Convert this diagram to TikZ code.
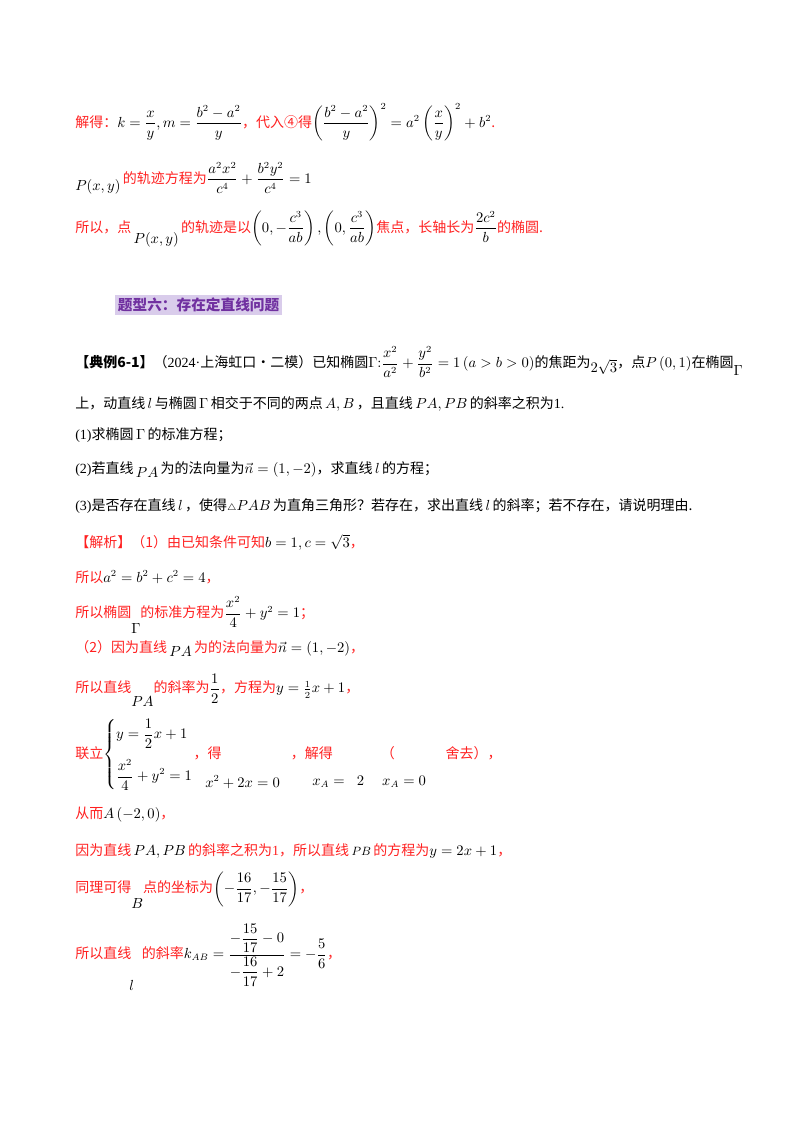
\documentclass[tikz,border=0pt]{standalone}
\usepackage{amsmath}
\usepackage{fontspec}
\setmainfont{Liberation Serif}
\newfontfamily\cjk{Noto Sans CJK SC}
\definecolor{rd}{HTML}{FF2020}
\definecolor{pur}{HTML}{7030A0}
\definecolor{hl}{HTML}{D9CCEB}
\newcommand{\R}[1]{{\color{rd}\cjk #1}}
\newcommand{\K}[1]{{\cjk #1}}
\newcommand{\dn}[2]{\raisebox{-#1pt}{#2}}
\begin{document}
\begin{tikzpicture}[x=0.75pt,y=-0.75pt,
  ln/.style={anchor=west,inner sep=0pt,font=\fontsize{10.5}{12}\selectfont}]
\useasboundingbox (0,0) rectangle (800,1132);
\node[ln] (l1) at (75,122) {\R{解得：}$k=\dfrac{x}{y},m=\dfrac{b^2-a^2}{y}$\R{，代入④得}$\left(\dfrac{b^2-a^2}{y}\right)^2=a^2\left(\dfrac{x}{y}\right)^2+b^2$\R{.}};
\node[ln] (l2) at (75,178) {\dn{5}{$P(x,y)$}\,\R{的轨迹方程为}$\dfrac{a^2x^2}{c^4}+\dfrac{b^2y^2}{c^4}=1$};
\node[ln] (l3) at (75,229) {\R{所以，点}\,\dn{8}{$P(x,y)$}\,\R{的轨迹是以}$\left(0,-\dfrac{c^3}{ab}\right),\left(0,\dfrac{c^3}{ab}\right)$\R{焦点，长轴长为}$\dfrac{2c^2}{b}$\R{的椭圆.}};
\node[ln,fill=hl,inner sep=2pt,font=\fontsize{11}{12}\selectfont\bfseries] (t) at (115,305) {{\color{pur}\cjk\bfseries 题型六：存在定直线问题}};
\node[ln] (e1) at (75,362) {\K{\bfseries【典例6-1】}\K{（}2024·\K{上海虹口·二模）已知椭圆}$\Gamma{:}\dfrac{x^2}{a^2}+\dfrac{y^2}{b^2}=1\left(a>b>0\right)$\K{的焦距为}\dn{4}{$2\sqrt3$}\K{，点}$P\left(0,1\right)$\K{在椭圆}\dn{6}{$\Gamma$}};
\node[ln] (e2) at (75,404) {\K{上，动直线}$\,l\,$\K{与椭圆}$\,\Gamma\,$\K{相交于不同的两点}$\,A,B\,$\K{，且直线}$\,PA,PB\,$\K{的斜率之积为}1.};
\node[ln] (e3) at (75,435) {(1)\K{求椭圆}$\,\Gamma\,$\K{的标准方程；}};
\node[ln] (e4) at (75,470) {(2)\K{若直线}\,\dn{3}{$PA$}\,\K{为的法向量为}$\vec n=\left(1,-2\right)$\K{，求直线}$\,l\,$\K{的方程；}};
\node[ln] (e5) at (75,506) {(3)\K{是否存在直线}$\,l\,$\K{，使得}{\scriptsize$\triangle$}$PAB\,$\K{为直角三角形？若存在，求出直线}$\,l\,$\K{的斜率；若不存在，请说明理由.}};
\node[ln] (s1) at (75,542) {\R{【解析】（1）由已知条件可知}$b=1,c=\sqrt3$\R{，}};
\node[ln] (s2) at (75,577) {\R{所以}$a^2=b^2+c^2=4$\R{，}};
\node[ln] (s3) at (75,615) {\R{所以椭圆}\dn{12}{$\Gamma$}\R{的标准方程为}$\dfrac{x^2}{4}+y^2=1$\R{；}};
\node[ln] (s4) at (75,648) {\R{（2）因为直线}\,\dn{3}{$PA$}\,\R{为的法向量为}$\vec n=\left(1,-2\right)$\R{，}};
\node[ln] (s5) at (75,690) {\R{所以直线}\dn{10}{$PA$}\R{的斜率为}$\dfrac12$\R{，方程为}$y=\frac12x+1$\R{，}};
\node[ln] (s6) at (75,755) {\R{联立}$\left\{\begin{aligned}&y=\dfrac12x+1\\[4pt]&\dfrac{x^2}{4}+y^2=1\end{aligned}\right.$\R{，得}\hspace{52pt}\R{，解得}\hspace{36pt}\R{（}\hspace{38pt}\R{舍去），}};
\node[ln] (s6a) at (205,782) {$x^2+2x=0$};
\node[ln] (s6b) at (312,782) {$x_A=\;\;2\quad\; x_A=0$};
\node[ln] (s7) at (75,815) {\R{从而}$A\left(-2,0\right)$\R{，}};
\node[ln] (s8) at (75,851) {\R{因为直线}$\,PA,PB\,$\R{的斜率之积为}{\color{rd}1}\R{，所以直线}\,{\small$PB$}\,\R{的方程为}$y=2x+1$\R{，}};
\node[ln] (s9) at (75,890) {\R{同理可得}\dn{12}{$B$}\R{点的坐标为}$\left(-\dfrac{16}{17},-\dfrac{15}{17}\right)$\R{，}};
\node[ln] (s10) at (75,955) {\R{所以直线}\hspace{8pt}\R{的斜率}$k_{AB}=\dfrac{-\dfrac{15}{17}-0}{-\dfrac{16}{17}+2}=-\dfrac56$\R{，}};
\node[ln] (s10l) at (129,985) {$l$};
\end{tikzpicture}
\end{document}
